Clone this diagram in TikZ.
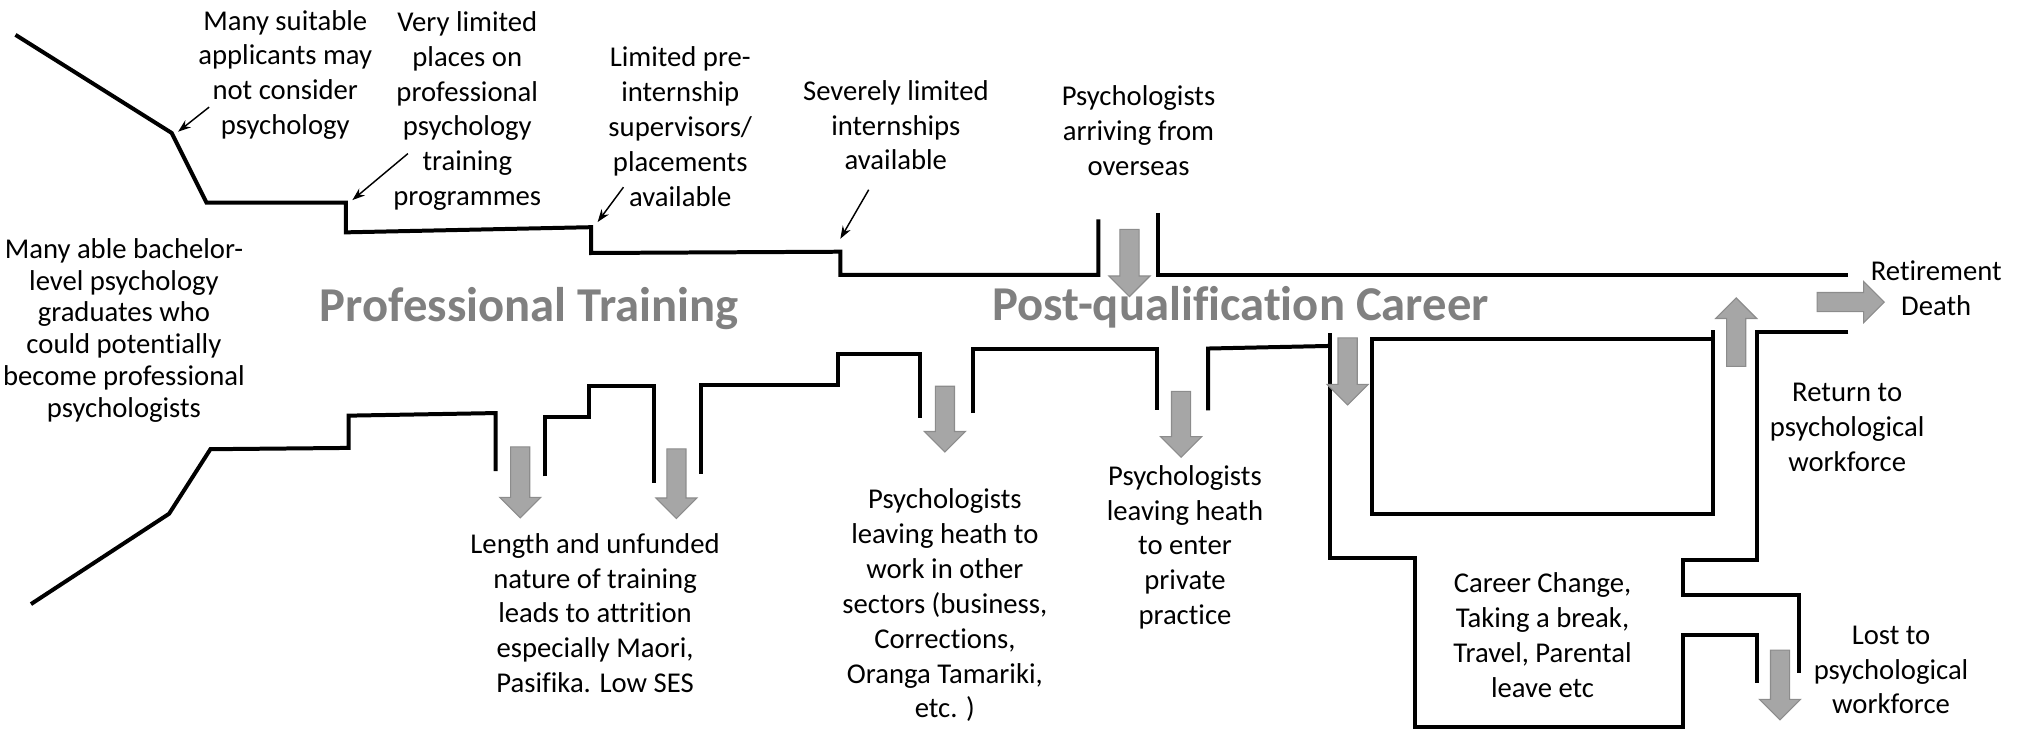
\documentclass[tikz,border=0pt]{standalone}
\usepackage{fontspec}
\setmainfont{Carlito}[Ligatures=NoCommon]
\usetikzlibrary{shapes.arrows,arrows.meta}
\definecolor{titlegray}{HTML}{808080}
\definecolor{flowfill}{HTML}{A6A6A6}
\definecolor{flowline}{HTML}{8C8C8C}
\tikzset{
  pipe/.style={line width=2.2pt, line join=miter},
  note/.style={align=center, inner sep=0pt, font=\fontsize{15.8}{19.2}\selectfont},
  pointer/.style={-{Stealth[length=7pt,width=5pt]}, line width=0.8pt},
  flow/.style={single arrow, draw=flowline, fill=flowfill, line width=0.6pt,
    inner xsep=0pt, inner ysep=0.175cm, single arrow head extend=0.2125cm},
  heading/.style={text=titlegray, inner sep=0pt, font=\fontsize{26.8}{32}\selectfont\bfseries}
}
\begin{document}
\begin{tikzpicture}[x=0.025cm, y=-0.025cm]
\useasboundingbox (0,0) rectangle (1568,566);

% upper wall of the pipeline
\draw[pipe] (12,27) -- (133,103) -- (160,157) -- (268,157) -- (268,180) -- (458,176) -- (458,196) -- (651,195) -- (651,213) -- (851,213) -- (851,170);
\draw[pipe] (897,165) -- (897,213) -- (1432,213);

% lower wall of the pipeline
\draw[pipe] (24,468) -- (131,398) -- (163,348) -- (270,347) -- (270,322) -- (384,320) -- (384,365);
\draw[pipe] (422,369) -- (422,323) -- (456,323) -- (456,299) -- (507,299) -- (507,374);
\draw[pipe] (543,367) -- (543,298) -- (649,298) -- (649,274) -- (713,274) -- (713,324);
\draw[pipe] (754,320) -- (754,270) -- (896,270) -- (896,318);
\draw[pipe] (936,318) -- (936,270) -- (1030,268);
\draw[pipe] (1030,258) -- (1030,432) -- (1096,432) -- (1096,563) -- (1304,563) -- (1304,492) -- (1361,492) -- (1361,529);
\draw[pipe] (1327,256) -- (1327,398) -- (1063,398) -- (1063,263) -- (1327,263);
\draw[pipe] (1432,257) -- (1361,257) -- (1361,434) -- (1304,434) -- (1304,461) -- (1394,461) -- (1394,521);

% headings
\node[heading] (training) at (410,239) {Professional Training};
\node[heading] (career) at (961,238) {Post-qualification Career};

% notes above
\node[note] (suitable) at (221,58) {Many suitable\\applicants may\\not consider\\psychology};
\node[note] (places) at (362,86) {Very limited\\places on\\professional\\psychology\\training\\programmes};
\node[note] (preintern) at (527,98) {Limited pre-\\internship\\supervisors/\\placements\\available};
\node[note] (interns) at (694,97) {Severely limited\\internships\\available};
\node[note] (overseas) at (882,101) {Psychologists\\arriving from\\overseas};
\node[note] (retire) at (1500,223) {Retirement\\Death};
\node[note, font=\fontsize{15.8}{17.6}\selectfont] (bachelor) at (96,256) {Many able bachelor-\\level psychology\\graduates who\\could potentially\\become professional\\psychologists};

% notes below
\node[note] (attrition) at (461,475) {Length and unfunded\\nature of training\\leads to attrition\\especially Maori,\\Pasifika. Low SES};
\node[note] (sectors) at (732,469) {Psychologists\\leaving heath to\\work in other\\sectors (business,\\Corrections,\\Oranga Tamariki,\\etc. )};
\node[note] (private) at (918,424) {Psychologists\\leaving heath\\to enter\\private\\practice};
\node[note] (break) at (1195,492) {Career Change,\\Taking a break,\\Travel, Parental\\leave etc};
\node[note] (return) at (1431,331) {Return to\\psychological\\workforce};
\node[note] (lost) at (1465,519) {Lost to\\psychological\\workforce};

% pointers
\coordinate (suitable-from) at (162,83);
\coordinate (suitable-to) at (138,102);
\coordinate (places-from) at (316,119);
\coordinate (places-to) at (273,155);
\coordinate (preintern-from) at (483,145);
\coordinate (preintern-to) at (463,172);
\coordinate (interns-from) at (673,147);
\coordinate (interns-to) at (651,185);
\draw[pointer] (suitable-from) -- (suitable-to);
\draw[pointer] (places-from) -- (places-to);
\draw[pointer] (preintern-from) -- (preintern-to);
\draw[pointer] (interns-from) -- (interns-to);

% flows in and out
\node[flow, rotate=-90, minimum height=1.3cm] (inflow) at (875,200) {};
\node[flow, rotate=-90, minimum height=1.375cm] (dropone) at (403,370) {};
\node[flow, rotate=-90, minimum height=1.35cm] (droptwo) at (524,371) {};
\node[flow, rotate=-90, minimum height=1.275cm] (tosectors) at (732,321) {};
\node[flow, rotate=-90, minimum height=1.275cm] (toprivate) at (915,325) {};
\node[flow, rotate=-90, minimum height=1.3cm] (tobreak) at (1044,284) {};
\node[flow, rotate=90, minimum height=1.325cm] (comeback) at (1345,261) {};
\node[flow, minimum height=1.3cm] (toretire) at (1430,234) {};
\node[flow, rotate=-90, minimum height=1.35cm] (tolost) at (1379,527) {};
\end{tikzpicture}
\end{document}
